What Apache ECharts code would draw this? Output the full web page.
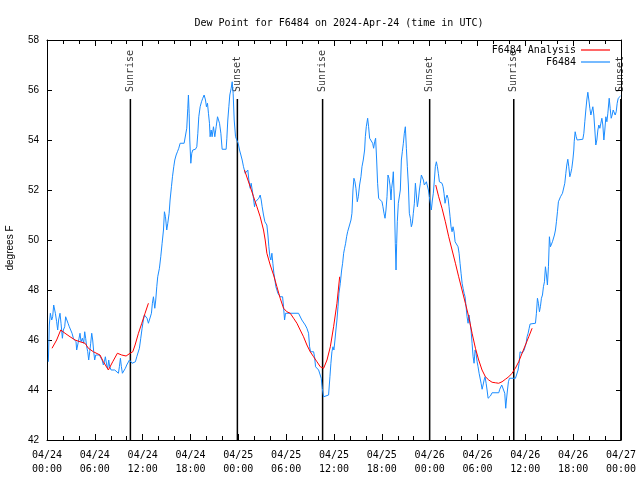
<!DOCTYPE html>
<html><head><meta charset="utf-8">
<script src="https://cdn.jsdelivr.net/npm/echarts@6/dist/echarts.min.js"></script>
<style>html,body{margin:0;padding:0;background:#fff}#c{width:640px;height:480px}</style>
</head><body><div id="c"></div>
<script>
const chartTitle = 'Dew Point for F6484 on 2024-Apr-24 (time in UTC)';
const yName = 'degrees F';
const blueName = 'F6484';
const redName = 'F6484 Analysis';

// hours since 04/24 00:00 UTC
const blueH = [0.17,0.29,0.42,0.59,0.71,0.84,0.96,1.05,1.21,1.34,1.46,1.63,1.76,1.93,2.05,2.22,2.34,2.47,2.64,2.80,2.97,3.14,3.31,3.47,3.64,3.72,3.85,4.02,4.14,4.27,4.44,4.60,4.73,4.85,4.98,5.11,5.23,5.36,5.48,5.61,5.73,5.86,5.98,6.11,6.57,6.78,6.91,7.07,7.20,7.32,7.49,7.62,7.74,7.87,8.04,8.24,8.50,8.75,8.96,9.08,9.21,9.33,9.46,9.67,9.83,10.00,10.17,10.34,10.50,10.67,10.92,11.09,11.26,11.47,11.59,11.76,11.93,12.09,12.22,12.39,12.55,12.72,12.85,12.97,13.10,13.22,13.35,13.52,13.64,13.77,13.89,14.10,14.27,14.44,14.61,14.73,14.86,15.02,15.15,15.32,15.44,15.61,15.74,15.90,16.03,16.20,16.36,16.53,16.70,17.20,17.41,17.53,17.66,17.74,17.83,17.91,18.04,18.16,18.29,18.62,18.79,18.92,19.04,19.21,19.38,19.54,19.71,19.88,20.00,20.13,20.25,20.38,20.46,20.59,20.71,20.88,21.05,21.22,21.39,21.51,21.64,21.81,21.97,22.47,22.56,22.68,22.81,22.93,23.10,23.23,23.35,23.48,23.65,23.81,23.98,24.15,24.32,24.48,24.65,24.86,25.07,25.19,25.32,25.49,25.61,25.74,25.90,26.03,26.16,26.41,26.57,26.74,26.87,26.99,27.16,27.33,27.45,27.58,27.71,27.83,27.96,28.08,28.21,28.33,28.46,28.59,28.71,28.84,28.96,29.13,29.25,29.55,29.67,29.80,29.92,31.55,31.76,31.97,32.18,32.39,32.60,32.81,32.94,33.06,33.44,33.56,33.69,33.86,34.07,34.28,34.40,34.53,34.70,35.32,35.49,35.61,35.74,35.87,35.99,36.12,36.24,36.37,36.50,36.62,36.79,36.96,37.08,37.21,37.33,37.46,37.58,37.71,37.84,37.96,38.13,38.25,38.38,38.50,38.63,38.75,38.92,39.05,39.21,39.38,39.51,39.67,39.84,39.93,40.05,40.22,40.34,40.47,40.59,40.72,40.85,40.97,41.10,41.22,41.35,41.47,41.60,41.81,42.02,42.14,42.27,42.40,42.52,42.65,42.77,42.90,43.02,43.15,43.23,43.36,43.44,43.57,43.69,43.78,43.86,43.94,44.07,44.19,44.32,44.45,44.57,44.70,44.82,44.95,45.08,45.20,45.33,45.45,45.58,45.70,45.83,45.95,46.08,46.21,46.33,46.46,46.58,46.71,46.83,46.96,47.08,47.21,47.33,47.46,47.59,47.71,47.84,47.96,48.09,48.21,48.34,48.46,48.59,48.71,48.84,48.97,49.09,49.22,49.34,49.55,49.68,49.80,49.93,50.05,50.18,50.31,50.43,50.56,50.68,50.81,50.93,51.06,51.19,51.44,51.56,51.69,51.81,51.94,52.07,52.19,52.32,52.44,52.57,52.69,52.82,52.94,53.07,53.19,53.32,53.45,53.57,53.70,53.82,53.95,54.07,54.20,54.32,54.45,54.58,54.70,54.83,54.95,55.08,55.20,55.33,55.50,55.62,55.83,56.67,56.79,57.04,57.29,57.42,57.54,57.63,57.76,57.88,58.01,58.76,58.97,59.09,59.22,59.34,59.60,59.85,59.97,60.10,60.22,60.35,60.48,60.60,61.27,61.39,61.52,61.64,61.77,61.89,62.02,62.15,62.27,62.40,62.52,62.65,62.77,62.90,63.02,63.15,63.40,63.65,63.78,63.90,64.03,64.15,64.28,64.41,64.66,64.82,64.95,65.08,65.20,65.33,65.45,65.58,65.70,65.83,65.96,66.08,66.13,66.25,66.38,66.50,67.21,67.34,67.46,67.59,67.71,67.84,67.97,68.09,68.22,68.34,68.47,68.59,68.72,68.84,68.97,69.10,69.22,69.35,69.47,69.60,69.72,69.85,69.97,70.10,70.23,70.35,70.52,70.64,70.77,70.89,71.02,71.15,71.27,71.40,71.52,71.65,71.82,71.94];
const blueV = [45.13,46.6,47.07,46.8,46.93,47.4,47.47,47.07,46.73,46.4,46.8,47.07,46.67,46.07,46.4,46.53,46.93,46.87,46.67,46.53,46.4,46.27,46.07,46.0,45.93,45.6,45.8,46.07,46.27,45.93,46.07,45.87,46.33,46.07,45.73,45.53,45.2,45.53,45.87,46.27,46.0,45.53,45.2,45.4,45.4,45.4,45.2,45.0,45.13,45.33,45.0,44.87,45.2,44.93,44.8,44.73,44.8,44.73,44.67,44.93,45.27,44.93,44.67,44.73,44.87,45.0,45.07,45.2,45.27,45.07,45.04,45.13,45.33,45.4,45.67,46.07,46.47,46.8,47.0,46.93,46.87,46.67,46.73,46.67,47.07,47.47,47.73,47.27,47.6,48.13,48.53,48.87,49.33,49.87,50.4,51.13,50.93,50.4,50.67,51.07,51.6,52.13,52.53,52.93,53.2,53.4,53.53,53.67,53.87,53.87,53.87,54.47,55.27,55.8,55.07,54.0,53.07,53.47,53.6,53.63,53.73,54.27,54.93,55.33,55.53,55.67,55.8,55.6,55.33,55.47,55.07,54.67,54.13,54.4,54.13,54.53,54.13,54.53,54.93,55.0,54.67,54.27,53.63,53.63,54.07,54.8,55.33,55.8,56.07,56.33,55.87,54.8,54.13,54.0,53.87,53.6,53.4,53.2,52.93,52.67,52.6,52.8,52.4,52.07,52.27,52.0,51.67,51.33,51.53,51.53,51.67,51.8,51.6,51.33,51.0,50.73,50.8,50.6,50.2,49.73,49.33,49.2,49.47,49.07,48.67,48.4,48.13,48.0,47.87,47.8,47.73,47.73,47.33,46.8,47.07,47.07,47.0,46.8,46.73,46.6,46.47,46.27,45.73,45.53,45.53,45.33,44.93,44.87,44.8,44.73,44.47,44.07,43.73,43.8,44.53,45.07,45.53,45.73,45.6,46.0,46.4,46.8,47.33,47.87,48.27,48.8,49.07,49.47,49.67,49.87,50.13,50.33,50.27,50.4,50.8,51.07,52.0,52.47,52.33,52.07,51.53,51.73,52.2,52.53,52.93,53.2,53.6,54.13,54.53,54.87,54.53,54.07,54.0,54.07,53.87,53.67,53.93,54.07,53.2,52.27,51.67,51.6,51.53,51.33,51.07,50.87,51.2,51.73,52.6,52.47,52.2,51.6,52.07,52.4,52.73,51.6,49.87,48.8,49.87,50.73,51.47,51.53,52.0,53.2,53.53,53.87,54.27,54.53,53.67,52.93,52.2,51.07,50.87,50.53,50.67,51.07,51.47,52.27,52.33,51.33,51.6,52.0,52.27,52.6,52.67,52.4,52.2,52.13,52.33,52.4,52.0,51.73,51.47,51.2,51.6,51.87,52.4,52.93,53.13,52.93,52.67,52.33,52.27,52.27,52.13,51.87,51.47,51.67,51.8,51.67,51.33,50.93,50.53,50.33,50.53,50.33,49.93,49.87,49.73,49.47,49.07,48.67,48.27,48.07,47.87,47.73,47.33,46.93,46.67,47.0,46.67,46.4,45.87,45.33,45.07,45.6,45.47,45.13,44.93,44.67,44.6,44.27,44.03,44.2,44.4,44.53,44.27,44.0,43.67,43.67,43.76,43.89,43.89,44.03,44.2,44.27,43.87,43.27,43.6,44.0,44.33,44.47,44.47,44.53,44.8,45.07,45.53,45.47,45.6,45.73,45.87,46.13,46.27,46.47,46.64,46.67,47.07,47.67,47.47,47.13,47.33,47.67,47.8,48.13,48.33,48.93,48.6,48.2,48.93,50.13,49.73,49.93,50.2,50.4,50.73,51.13,51.53,51.6,51.73,51.87,51.93,52.27,52.67,53.0,53.23,52.93,52.53,52.67,52.87,53.2,53.6,53.93,54.33,54.13,54.0,54.03,54.27,54.73,55.2,55.6,55.91,55.6,55.27,55.0,54.93,55.33,55.0,54.4,53.8,54.0,54.4,54.6,54.47,54.67,54.87,54.6,54.0,54.4,54.93,54.73,55.07,55.67,55.27,54.87,55.0,55.2,55.13,55.0,55.13,55.47,55.67,55.73,55.76];

// analysis curve, null = gap between fitted segments
const redH = [0.63,1.21,1.72,2.26,2.89,3.52,4.14,4.77,5.19,5.82,6.65,7.07,7.70,8.24,8.83,9.37,9.92,10.42,10.76,11.05,11.47,11.89,12.30,12.72,null,
  24.77,25.49,25.91,26.33,26.74,27.16,27.37,27.58,28.00,28.42,28.84,29.25,29.67,30.09,30.51,30.93,31.35,31.76,32.18,32.60,33.02,33.44,33.86,34.28,34.70,34.91,35.12,35.54,35.95,36.37,36.71,null,
  48.76,49.13,49.55,49.97,50.39,50.81,51.23,51.64,52.06,52.48,52.90,53.32,53.74,54.15,54.57,54.99,55.41,55.83,56.24,56.66,57.08,57.50,57.92,58.33,58.75,59.17,59.59,60.01,60.43,60.85];
const redV = [45.67,46.0,46.4,46.27,46.13,46.0,45.93,45.87,45.67,45.53,45.4,45.13,44.8,45.13,45.47,45.4,45.36,45.47,45.53,45.8,46.27,46.67,47.07,47.47,null,
  52.8,52.13,51.73,51.33,50.93,50.4,50.0,49.47,49.0,48.6,48.13,47.67,47.27,47.13,47.07,46.87,46.67,46.4,46.13,45.8,45.53,45.33,45.13,44.93,44.87,44.87,45.2,45.73,46.53,47.47,48.53,null,
  52.2,51.73,51.27,50.73,50.13,49.6,49.07,48.53,48.0,47.47,46.93,46.27,45.67,45.2,44.8,44.53,44.4,44.31,44.29,44.27,44.33,44.43,44.53,44.67,44.87,45.13,45.47,45.8,46.13,46.47];

const eventH = [10.46, 23.88, 34.57, 48.0, 58.55, 71.98];
const eventNames = ['Sunrise','Sunset','Sunrise','Sunset','Sunrise','Sunset'];
const eventTop = 55.64;

const yMin = 42, yMax = 58, yStep = 2;
const xMin = 0, xMax = 72, xStep = 6;

const MONO = 'DejaVu Sans Mono';
const SANS = 'Liberation Sans';
const BLUE = '#1a8cff';
const RED = '#ff0000';
const LINE_ICON = 'path://M0,0 L29,0 L29,1.2 L0,1.2 Z';

function pad(n){ return (n < 10 ? '0' : '') + n; }
function xLabel(h){
  const d = 24 + Math.floor(h / 24);
  const hh = Math.round(h % 24);
  return '04/' + pad(d) + '\n' + pad(hh) + ':00';
}

const blueData = blueH.map((h, i) => [h, blueV[i]]);
const redData = redH.map((h, i) => h === null ? [null, null] : [h, redV[i]]);
const eventLineData = [];
eventH.forEach(h => { eventLineData.push([h, yMin]); eventLineData.push([h, eventTop]); eventLineData.push([null, null]); });
const eventLabelData = eventH.map((h, i) => ({ value: [h, eventTop], name: eventNames[i] }));

const tickStyle = { color: '#000', width: 1 };
function xAxisCfg(pos, showLabel){
  return {
    type: 'value', position: pos, min: xMin, max: xMax, interval: xStep,
    axisLine: { show: true, onZero: false, lineStyle: tickStyle },
    axisTick: { show: true, inside: true, length: 6, lineStyle: tickStyle },
    minorTick: { show: true, splitNumber: 3, length: 4, lineStyle: tickStyle },
    splitLine: { show: false }, minorSplitLine: { show: false },
    axisLabel: { show: showLabel, formatter: xLabel, fontFamily: MONO, fontSize: 10, color: '#000', margin: 8, lineHeight: 14, showMinLabel: true, showMaxLabel: true }
  };
}
function yAxisCfg(pos, showLabel){
  return {
    type: 'value', position: pos, min: yMin, max: yMax, interval: yStep,
    name: showLabel ? yName : '', nameLocation: 'middle', nameGap: 32,
    nameTextStyle: { fontFamily: SANS, fontSize: 10, color: '#000', padding: [0, 16, 0, 0] },
    axisLine: { show: true, onZero: false, lineStyle: tickStyle },
    axisTick: { show: true, inside: true, length: 5, lineStyle: tickStyle },
    splitLine: { show: false },
    axisLabel: { show: showLabel, fontFamily: SANS, fontSize: 10, color: '#000', margin: 8, showMinLabel: true, showMaxLabel: true }
  };
}

const chart = echarts.init(document.getElementById('c'), null, { renderer: 'canvas' });
chart.setOption({
  animation: false,
  backgroundColor: '#fff',
  title: { text: chartTitle, left: 334, textAlign: 'center', top: 13,
    textStyle: { fontFamily: MONO, fontSize: 10, fontWeight: 'normal', color: '#000' } },
  grid: { left: 47, right: 19, top: 40, bottom: 40, containLabel: false, outerBoundsMode: 'none' },
  legend: {
    data: [{ name: redName, icon: LINE_ICON, itemStyle: { color: RED } }, { name: blueName, icon: LINE_ICON, itemStyle: { color: BLUE } }],
    orient: 'vertical', align: 'right', right: 25, top: 40,
    itemWidth: 29, itemHeight: 10, itemGap: 2,
    textStyle: { fontFamily: MONO, fontSize: 10, color: '#000' }
  },
  xAxis: [xAxisCfg('bottom', true), xAxisCfg('top', false)],
  yAxis: [yAxisCfg('left', true), yAxisCfg('right', false)],
  series: [
    { name: 'events', type: 'line', data: eventLineData, symbol: 'none', connectNulls: false,
      lineStyle: { color: '#000', width: 1.5 }, silent: true, z: 1 },
    { name: 'eventLabels', type: 'scatter', data: eventLabelData, symbolSize: 0, silent: true, z: 1,
      label: { show: true, position: 'top', distance: 7, rotate: 90, align: 'left', verticalAlign: 'middle',
        formatter: p => p.name, fontFamily: MONO, fontSize: 10, color: '#000' } },
    { name: blueName, type: 'line', data: blueData, symbol: 'none', lineStyle: { color: BLUE, width: 1 }, itemStyle: { color: BLUE }, z: 2 },
    { name: redName, type: 'line', data: redData, symbol: 'none', connectNulls: false, lineStyle: { color: RED, width: 1 }, itemStyle: { color: RED }, z: 3 }
  ]
});
</script>
</body></html>
